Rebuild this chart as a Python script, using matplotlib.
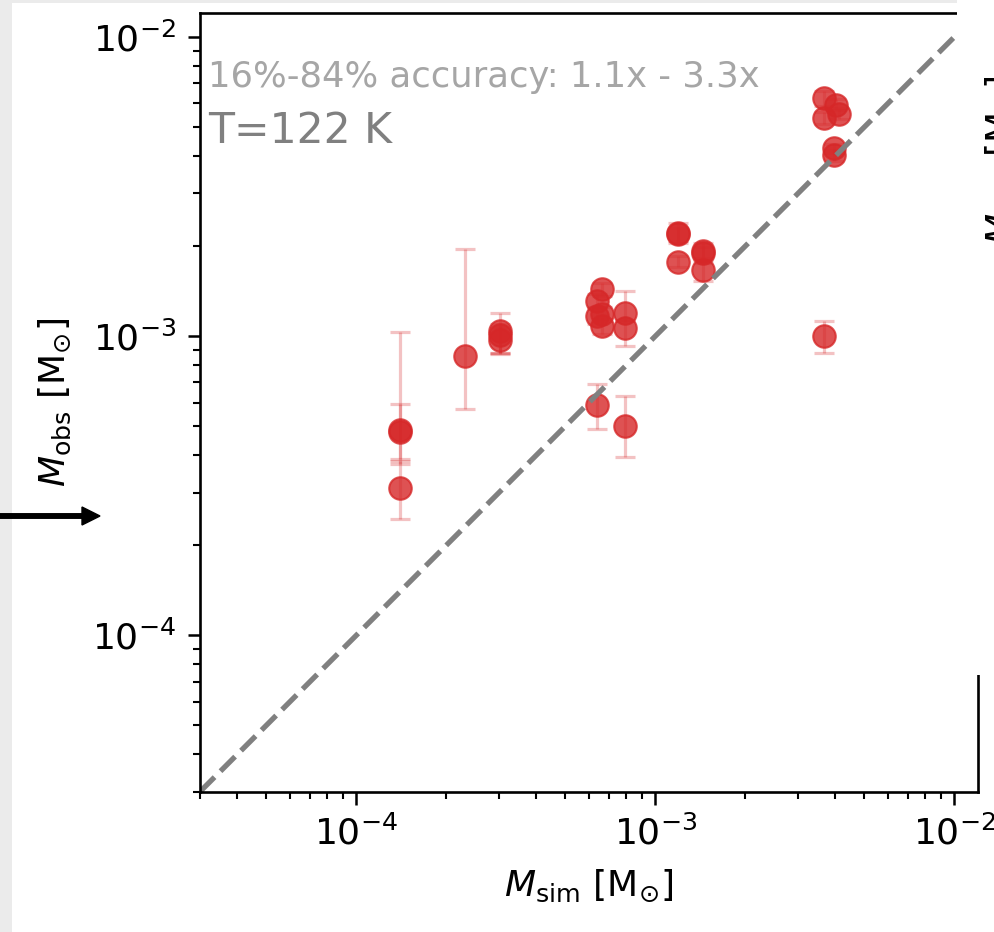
import numpy as np
import matplotlib
matplotlib.use('Agg')
import matplotlib.pyplot as plt
from matplotlib.patches import Rectangle, FancyArrow

# simulated vs observed masses [Msun], with 16-84% ranges of the observed value
m_sim = [1.40e-4, 1.40e-4, 1.40e-4, 2.31e-4, 3.02e-4, 3.02e-4, 3.02e-4,
         6.64e-4, 6.40e-4, 6.40e-4, 6.64e-4, 6.64e-4, 6.40e-4,
         7.93e-4, 7.93e-4, 7.93e-4, 1.19e-3, 1.19e-3, 1.19e-3,
         1.44e-3, 1.44e-3, 1.44e-3, 3.66e-3, 3.66e-3, 4.02e-3,
         4.11e-3, 3.95e-3, 3.95e-3, 3.66e-3]
m_obs = [4.78e-4, 4.85e-4, 3.10e-4, 8.58e-4, 1.043e-3, 1.008e-3, 9.74e-4,
         1.435e-3, 1.31e-3, 1.17e-3, 1.19e-3, 1.08e-3, 5.89e-4,
         1.196e-3, 1.066e-3, 5.01e-4, 2.213e-3, 2.20e-3, 1.77e-3,
         1.921e-3, 1.90e-3, 1.669e-3, 6.27e-3, 5.34e-3, 5.94e-3,
         5.51e-3, 4.24e-3, 4.02e-3, 1.00e-3]
obs_lo = [3.75e-4, 3.88e-4, 2.44e-4, 5.70e-4, 8.80e-4, 8.70e-4, 8.75e-4,
          1.36e-3, 1.25e-3, 1.10e-3, 1.12e-3, 1.02e-3, 4.91e-4,
          1.12e-3, 9.26e-4, 3.94e-4, 2.05e-3, 2.08e-3, 1.70e-3,
          1.83e-3, 1.80e-3, 1.53e-3, 5.90e-3, 5.10e-3, 5.70e-3,
          5.30e-3, 4.10e-3, 3.85e-3, 8.80e-4]
obs_hi = [1.03e-3, 5.93e-4, 3.83e-4, 1.95e-3, 1.196e-3, 1.10e-3, 1.07e-3,
          1.50e-3, 1.38e-3, 1.24e-3, 1.25e-3, 1.14e-3, 6.93e-4,
          1.41e-3, 1.13e-3, 6.31e-4, 2.39e-3, 2.30e-3, 1.85e-3,
          2.05e-3, 1.98e-3, 1.75e-3, 6.60e-3, 5.60e-3, 6.20e-3,
          5.80e-3, 4.40e-3, 4.20e-3, 1.127e-3]

mass_lim = (3e-5, 1.2e-2)
accuracy_text = '16%-84% accuracy: 1.1x - 3.3x'
temp_text = 'T=122 K'
xlab = r'$M_{\rm sim}$ [${\rm M}_{{\odot}}$]'
ylab = r'$M_{\rm obs}$ [${\rm M}_{{\odot}}$]'

W, H = 995, 932
fig = plt.figure(figsize=(W / 100, H / 100), dpi=100)
ax = fig.add_axes([200 / W, 1 - 791.7 / H, 778 / W, 778.4 / H])

m_sim = np.array(m_sim)
m_obs = np.array(m_obs)
yerr = [m_obs - np.array(obs_lo), np.array(obs_hi) - m_obs]

ax.errorbar(m_sim, m_obs, yerr=yerr, fmt='none', ecolor='tab:red', alpha=0.28,
            elinewidth=2.3, capsize=7.5, capthick=2.3)
ax.plot(m_sim, m_obs, 'o', color='tab:red', alpha=0.8, markersize=16.2,
        markeredgewidth=1.5)
ax.axline((1e-4, 1e-4), (1e-3, 1e-3), ls=(0, (3.9, 1.6)), color='grey', lw=3.8)

ax.set_xscale('log')
ax.set_yscale('log')
ax.set_xlim(mass_lim)
ax.set_ylim(mass_lim)

ax.tick_params(which='major', length=9, width=1.8, labelsize=26, pad=8)
ax.tick_params(which='minor', length=4.8, width=1.5)
for s in ax.spines.values():
    s.set_linewidth(1.9)

ax.set_xlabel(xlab, fontsize=26, labelpad=12)
ax.set_ylabel(ylab, fontsize=26, labelpad=14)

ax.text(0.01, 0.905, accuracy_text, transform=ax.transAxes, color='grey',
        alpha=0.7, fontsize=25.5, va='baseline')
ax.text(0.01, 0.833, temp_text, transform=ax.transAxes, color='grey',
        fontsize=30.6, va='baseline')

# screenshot leftovers: grey border, neighbouring panel, arrow
fig.add_artist(Rectangle((0, 0), 12 / W, 1, transform=fig.transFigure,
                         facecolor='#ebebeb', edgecolor='none'))
fig.add_artist(Rectangle((12 / W, 1 - 3 / H), (957 - 12) / W, 3 / H,
                         transform=fig.transFigure, facecolor='#ebebeb',
                         edgecolor='none'))
fig.add_artist(Rectangle((957 / W, 1 - 675 / H), (W - 957) / W, 675 / H,
                         transform=fig.transFigure, facecolor='white',
                         edgecolor='none', zorder=5))
fig.text(984 / W, 1 - 160 / H, ylab, rotation=90, ha='left', va='center',
         fontsize=26, zorder=6)
fig.add_artist(FancyArrow(0, (H - 516) / 100, 1.0, 0, width=0.045,
                          head_width=0.18, head_length=0.18,
                          length_includes_head=True, color='black',
                          transform=fig.dpi_scale_trans, zorder=6))

fig.savefig('out.png', dpi=100)
